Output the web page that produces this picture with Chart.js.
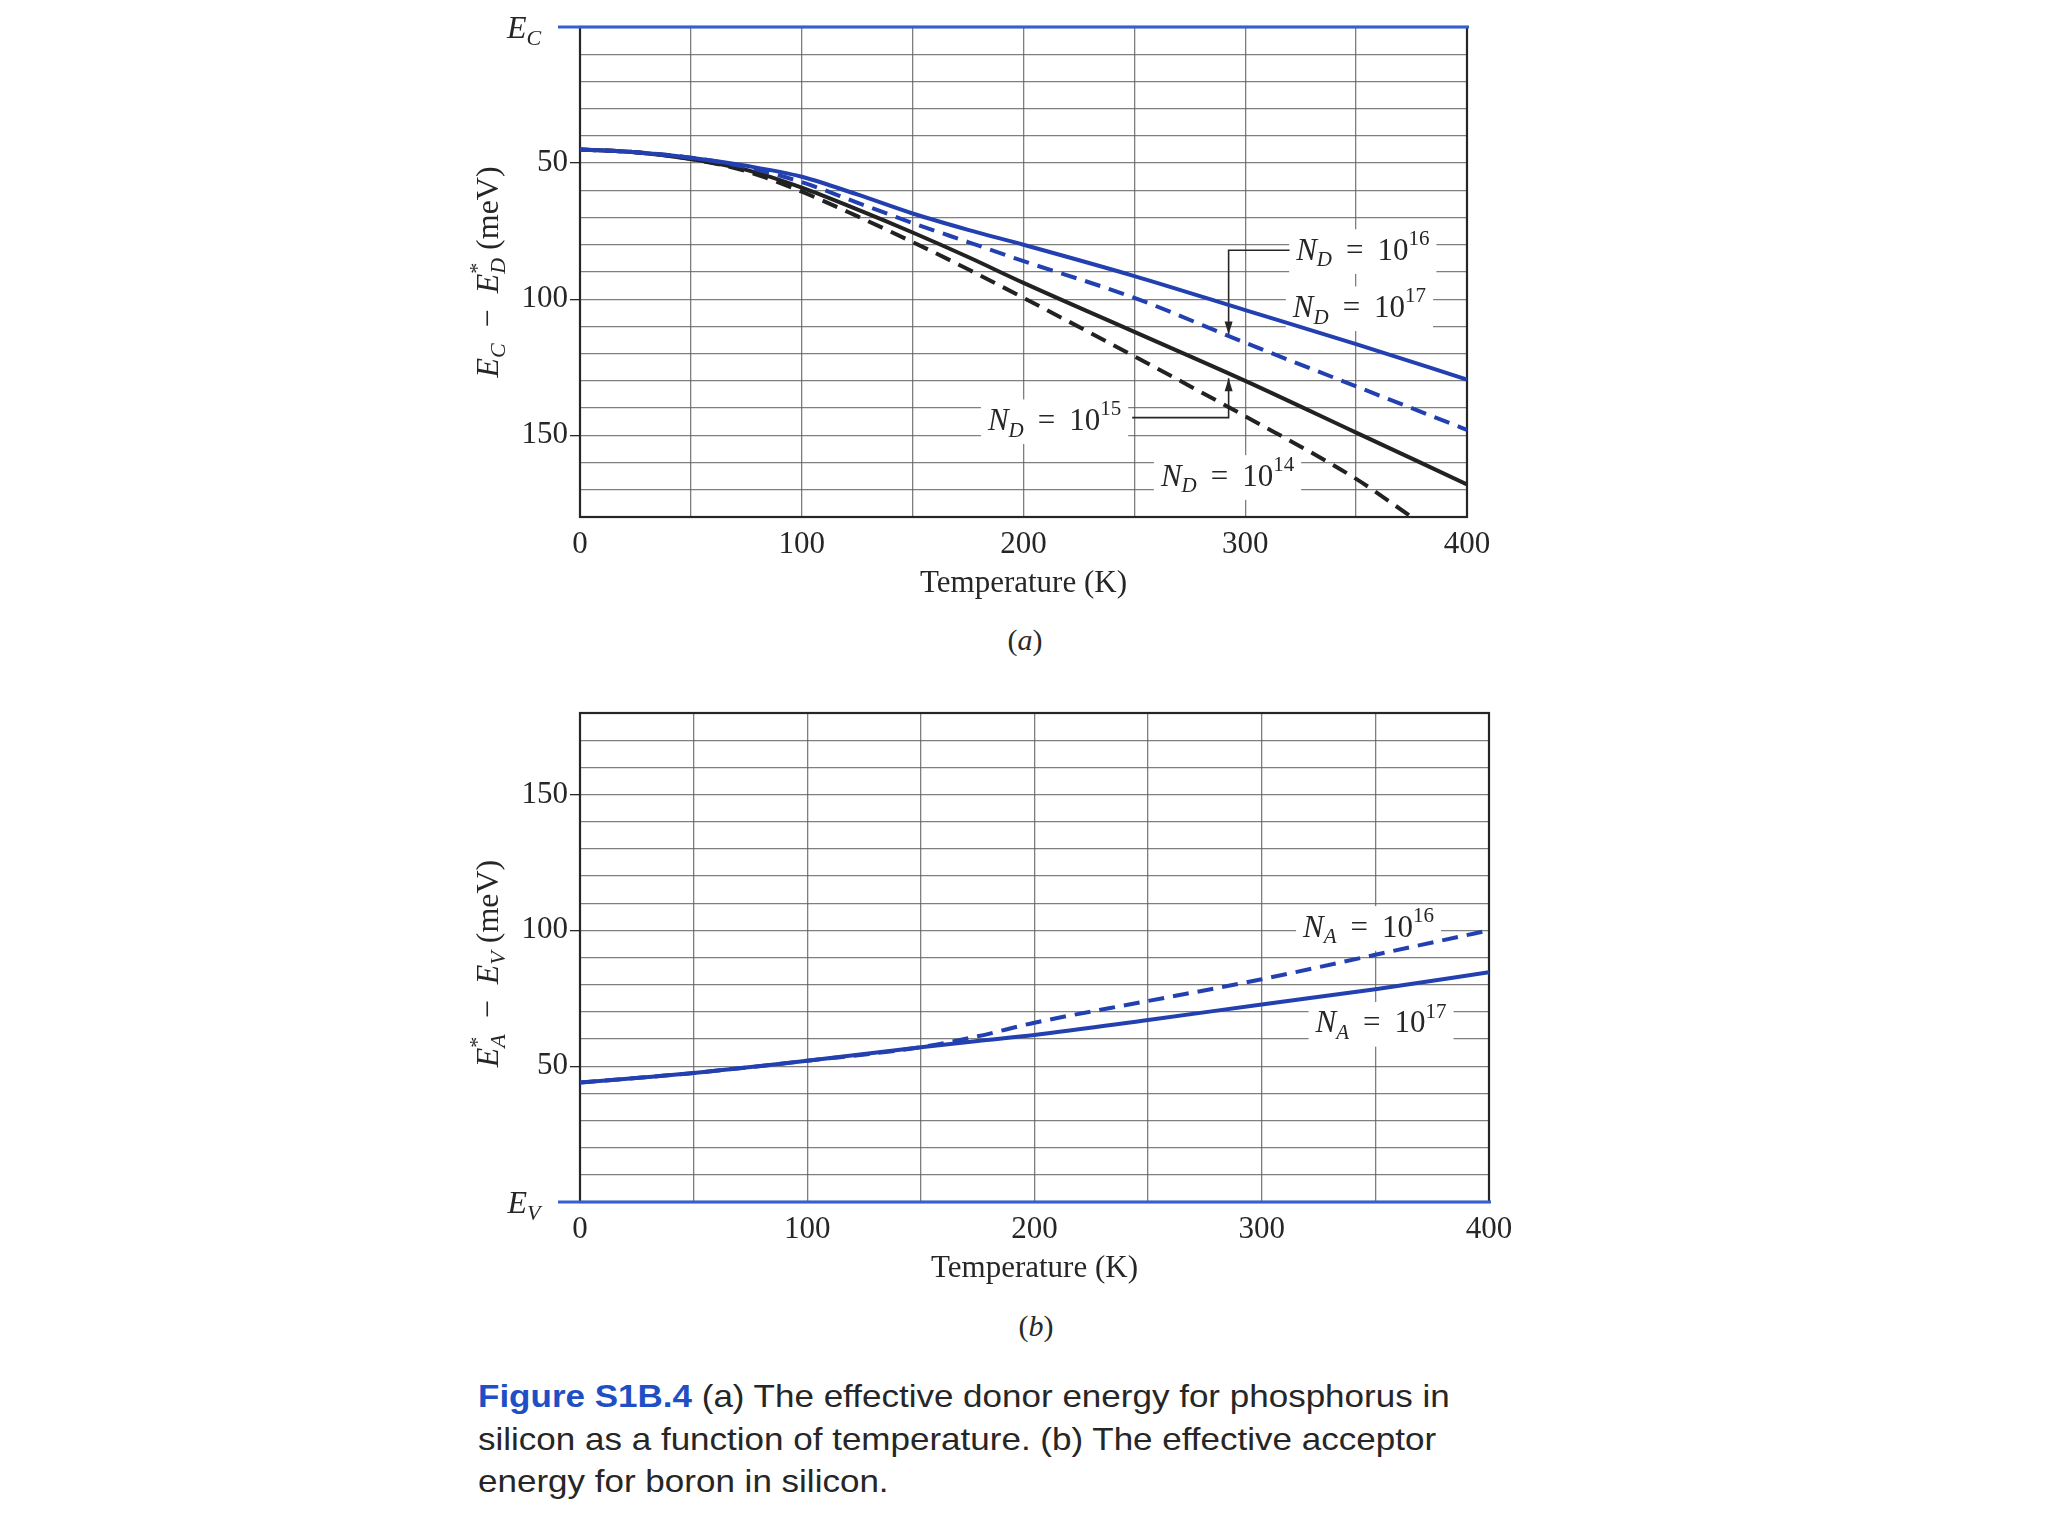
<!DOCTYPE html>
<html lang="en">
<head>
<meta charset="UTF-8">
<title>Figure S1B.4</title>
<script src="https://cdn.jsdelivr.net/npm/chart.js"></script>
<style>
  html, body { margin: 0; padding: 0; background: #fff; }
  body { width: 2048px; height: 1536px; position: relative; overflow: hidden; }
  .box { position: absolute; }
  .tag { position: absolute; font-family: "Liberation Serif", serif; font-size: 30px; color: #2a2a2a; transform: translate(-50%, -50%); }
  .caption { position: absolute; left: 478px; top: 1375px; font-family: "Liberation Sans", Arial, sans-serif;
             font-size: 32px; line-height: 42.5px; color: #262626; white-space: nowrap;
             transform: scaleX(1.094); transform-origin: left top; }
  .caption b { color: #1f4fc4; }
</style>
</head>
<body>
  <div class="box" style="left:440px; top:0px; width:1067px; height:617px;"><canvas id="chartA"></canvas></div>
  <div class="tag" style="left:1025px; top:640px;">(<i>a</i>)</div>

  <div class="box" style="left:440px; top:680px; width:1089px; height:622px;"><canvas id="chartB"></canvas></div>
  <div class="tag" style="left:1036px; top:1326px;">(<i>b</i>)</div>

  <div class="caption"><b>Figure S1B.4</b> (a) The effective donor energy for phosphorus in<br>silicon as a function of temperature. (b) The effective acceptor<br>energy for boron in silicon.</div>

<script>
// ---- panel (a): Ec - Ed* (meV) vs temperature (K) ----
const tempA    = [0, 25, 50, 75, 100, 125, 150, 175, 200, 250, 300, 350, 400];
const nd17     = [45, 46, 48, 51, 55, 61.5, 68.5, 74.5, 80, 91.5, 104, 116.5, 129.5];
const nd16     = [45, 46, 48, 51.5, 57, 64.5, 72, 79, 86, 99.5, 116, 132, 148];
const nd15     = [45, 46, 48.5, 52.5, 59, 67, 75.5, 84.5, 94, 112, 130, 149, 168];
const tempNd14 = [0, 25, 50, 75, 100, 125, 150, 175, 200, 250, 300, 350, 375];
const nd14     = [45, 46, 48.5, 53, 60.5, 69.5, 79, 89, 99.5, 121, 143, 166, 180];

// ---- panel (b): Ea* - Ev (meV) vs temperature (K) ----
const tempB = [0, 50, 100, 150, 175, 200, 250, 300, 350, 400];
const na16  = [44, 47.5, 52, 57, 61, 66, 74, 82, 91, 100];
const na17  = [44, 47.5, 52, 57, 59.3, 61.5, 67, 72.7, 78.3, 84.6];

// tick labels
const xTickLabels = [0, 100, 200, 300, 400];
const yTickLabels = [50, 100, 150];

const ink = '#262626';
const blue = '#2340b0';
const levelBlue = '#3560d4';
const gridColor = 'rgba(95,95,95,0.8)';
const serif = '"Liberation Serif", "Times New Roman", serif';
const tickFont = { family: serif, size: 31 };

function pts(xs, ys) { return xs.map((x, i) => ({ x: x, y: ys[i] })); }

// draws text with italic / sub / superscript pieces, centred on (x, y)
function drawRich(ctx, tokens, x, y, size, rot, bg) {
  const fontFor = tk => (tk.i ? 'italic ' : '') + Math.round(tk.s ? size * 0.68 : size) + 'px ' + serif;
  let w = 0;
  const widths = tokens.map(tk => {
    ctx.font = fontFor(tk);
    const m = ctx.measureText(tk.t).width;
    if (!tk.k) w += m;
    return m;
  });
  ctx.save();
  ctx.translate(x, y);
  if (rot) ctx.rotate(rot);
  if (bg) {
    ctx.fillStyle = '#fff';
    ctx.fillRect(-w / 2 - 7, -size * 0.72, w + 14, size * 1.44);
  }
  ctx.fillStyle = ink;
  ctx.textBaseline = 'middle';
  ctx.textAlign = 'left';
  let cx = -w / 2;
  tokens.forEach((tk, n) => {
    ctx.font = fontFor(tk);
    const dy = tk.s === 'sub' ? size * 0.3 : tk.s === 'sup' ? -size * 0.38 : 0;
    ctx.fillText(tk.t, cx, dy);
    if (!tk.k) cx += widths[n];
  });
  ctx.restore();
}

const conc = (sym, sub, exp) => [
  { t: sym, i: 1 }, { t: sub, i: 1, s: 'sub' }, { t: ' \u2009=\u2009 10' }, { t: exp, s: 'sup' }
];

// frame, level line (Ec / Ev), axis title and curve labels
const decor = {
  id: 'decor',
  beforeDatasetsDraw(chart, args, o) {
    const { ctx, chartArea: a, scales: { x, y } } = chart;
    (o.labels || []).forEach(l => drawRich(ctx, l.tokens, x.getPixelForValue(l.t), y.getPixelForValue(l.v), 31, 0, true));
    ctx.save();
    ctx.strokeStyle = ink;
    ctx.fillStyle = ink;
    ctx.lineWidth = 1.6;
    (o.leaders || []).forEach(path => {
      const p = path.map(q => [x.getPixelForValue(q[0]), y.getPixelForValue(q[1])]);
      ctx.beginPath();
      p.forEach((q, i) => i ? ctx.lineTo(q[0], q[1]) : ctx.moveTo(q[0], q[1]));
      ctx.stroke();
      const [x1, y1] = p[p.length - 2], [x2, y2] = p[p.length - 1];
      const ang = Math.atan2(y2 - y1, x2 - x1);
      ctx.beginPath();
      ctx.moveTo(x2, y2);
      ctx.lineTo(x2 - 13 * Math.cos(ang) + 4 * Math.sin(ang), y2 - 13 * Math.sin(ang) - 4 * Math.cos(ang));
      ctx.lineTo(x2 - 13 * Math.cos(ang) - 4 * Math.sin(ang), y2 - 13 * Math.sin(ang) + 4 * Math.cos(ang));
      ctx.closePath();
      ctx.fill();
    });
    ctx.lineWidth = 2.2;
    ctx.strokeRect(a.left, a.top, a.right - a.left, a.bottom - a.top);
    ctx.restore();
  },
  afterDraw(chart, args, o) {
    const { ctx, chartArea: a, scales: { y } } = chart;
    const y0 = y.getPixelForValue(0);
    ctx.save();
    ctx.strokeStyle = levelBlue;
    ctx.lineWidth = 3;
    ctx.beginPath();
    ctx.moveTo(a.left - 22, y0);
    ctx.lineTo(a.right + 2, y0);
    ctx.stroke();
    ctx.restore();
    drawRich(ctx, o.level, a.left - 56, y0 + 3, 32, 0, false);
    drawRich(ctx, o.title, 50, (a.top + a.bottom) / 2 + o.titleShift, 32, -Math.PI / 2, false);
  }
};

function scales(reverse) {
  return {
    x: {
      type: 'linear', min: 0, max: 400,
      ticks: { stepSize: 50, autoSkip: false, maxRotation: 0, padding: 9, color: ink, font: tickFont,
               callback: v => xTickLabels.includes(v) ? String(v) : '' },
      grid: { color: gridColor, lineWidth: 1.3, drawTicks: false },
      border: { display: false },
      title: { display: true, text: 'Temperature (K)', color: ink, font: tickFont, padding: { top: 0, bottom: 15 } },
      afterFit: s => { s.height = 100; }
    },
    y: {
      type: 'linear', min: 0, max: 180, reverse: reverse,
      ticks: { stepSize: 10, autoSkip: false, padding: 2, color: ink, font: tickFont,
               callback: v => yTickLabels.includes(v) ? String(v) : '' },
      grid: { color: gridColor, lineWidth: 1.3, tickLength: 10,
              tickColor: c => yTickLabels.includes(c.tick && c.tick.value) ? ink : 'rgba(0,0,0,0)' },
      border: { display: false },
      afterFit: s => { s.width = 140; }
    }
  };
}

function line(data, color, dashed) {
  return {
    data: data, borderColor: color, borderWidth: 4, borderDash: dashed ? [16, 9] : [],
    pointRadius: 0, fill: false, cubicInterpolationMode: 'monotone'
  };
}

new Chart(document.getElementById('chartA'), {
  type: 'line',
  data: {
    datasets: [
      line(pts(tempA, nd17), blue, false),
      line(pts(tempA, nd16), blue, true),
      line(pts(tempA, nd15), '#222', false),
      line(pts(tempNd14, nd14), '#222', true)
    ]
  },
  options: {
    responsive: true, maintainAspectRatio: false, animation: false,
    layout: { padding: { top: 27, right: 40, left: 0, bottom: 0 } },
    scales: scales(true),
    plugins: {
      legend: { display: false }, tooltip: { enabled: false },
      decor: {
        labels: [
          { tokens: conc('N', 'D', '16'), t: 353, v: 82.5 },
          { tokens: conc('N', 'D', '17'), t: 351.5, v: 103.5 },
          { tokens: conc('N', 'D', '15'), t: 214, v: 145 },
          { tokens: conc('N', 'D', '14'), t: 292, v: 165.5 }
        ],
        leaders: [
          [[320, 82], [292.5, 82], [292.5, 113]],
          [[249, 143.5], [292.5, 143.5], [292.5, 129]]
        ],
        level: [{ t: 'E', i: 1 }, { t: 'C', i: 1, s: 'sub' }],
        title: [{ t: 'E', i: 1 }, { t: 'C', i: 1, s: 'sub' }, { t: '\u2002\u2212\u2002' }, { t: 'E', i: 1 },
                { t: '*', s: 'sup', k: 1 }, { t: 'D', i: 1, s: 'sub' }, { t: ' (meV)' }],
        titleShift: 0
      }
    }
  },
  plugins: [decor]
});

new Chart(document.getElementById('chartB'), {
  type: 'line',
  data: {
    datasets: [
      line(pts(tempB, na17), blue, false),
      line(pts(tempB, na16), blue, true)
    ]
  },
  options: {
    responsive: true, maintainAspectRatio: false, animation: false,
    layout: { padding: { top: 33, right: 40, left: 0, bottom: 0 } },
    scales: scales(false),
    plugins: {
      legend: { display: false }, tooltip: { enabled: false },
      decor: {
        labels: [
          { tokens: conc('N', 'A', '16'), t: 347, v: 100.7 },
          { tokens: conc('N', 'A', '17'), t: 352.5, v: 65.4 }
        ],
        leaders: [],
        level: [{ t: 'E', i: 1 }, { t: 'V', i: 1, s: 'sub' }],
        title: [{ t: 'E', i: 1 }, { t: '*', s: 'sup', k: 1 }, { t: 'A', i: 1, s: 'sub' }, { t: '\u2002\u2212\u2002' },
                { t: 'E', i: 1 }, { t: 'V', i: 1, s: 'sub' }, { t: ' (meV)' }],
        titleShift: 6
      }
    }
  },
  plugins: [decor]
});
</script>
</body>
</html>
